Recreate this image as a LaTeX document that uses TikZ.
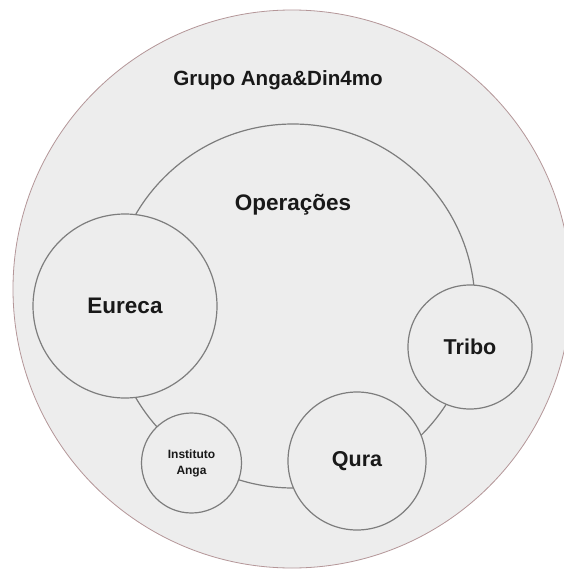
\documentclass[tikz,border=0pt]{standalone}
\usepackage{fontspec}
\setmainfont{Liberation Sans}
\usepackage{tikz}
\usetikzlibrary{positioning}
\definecolor{disc}{RGB}{237,237,237}
\definecolor{rim}{RGB}{125,125,125}
\definecolor{outerrim}{RGB}{180,150,152}
\newcommand{\bigtxt}{\fontsize{21.5}{24}\selectfont\bfseries}

\begin{document}
\begin{tikzpicture}[x=1pt,y=-1pt,
  ring/.style={circle,draw=rim,line width=1.2pt,fill=disc,inner sep=0pt},
  lbl/.style={text=black!90,font=\bigtxt,inner sep=0pt}]
\useasboundingbox (0,0) rectangle (564,570);
\clip (0,0) rectangle (564,570);
\fill[white] (0,0) rectangle (564,570);
% outer group and operations ring
\node[ring,draw=outerrim,line width=0.8pt,minimum size=558pt] (grupo) at (292,289) {};
\node[lbl,font=\fontsize{20.6}{24}\selectfont\bfseries] (grupotxt) at (278,80) {Grupo Anga\&Din4mo};
\node[ring,minimum size=364pt] (oper) at (293,306) {};
\node[lbl,font=\fontsize{22.5}{24}\selectfont\bfseries] (opertxt) at (293,205) {Operações};
% companies on the operations ring
\node[ring,minimum size=184pt,lbl,font=\fontsize{22.5}{24}\selectfont\bfseries] (eureca) at (125,306) {Eureca};
\node[ring,minimum size=124pt,lbl] (tribo) at (470,347) {Tribo};
\node[ring,minimum size=138pt,lbl] (qura) at (357,461) {Qura};
\node[ring,minimum size=100pt,lbl,font=\fontsize{12}{16}\selectfont\bfseries,align=center] (inst) at (191.5,463) {Instituto\\Anga};
\end{tikzpicture}
\end{document}
